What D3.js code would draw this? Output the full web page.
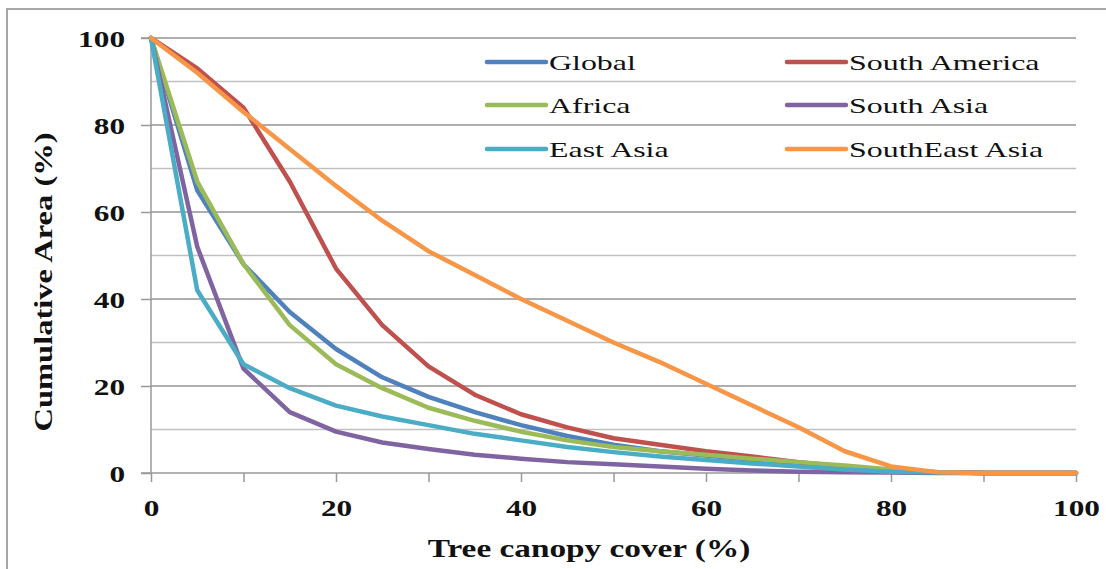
<!DOCTYPE html>
<html><head><meta charset="utf-8">
<script src="https://cdn.jsdelivr.net/npm/d3@7/dist/d3.min.js"></script>
<style>body{margin:0;background:#fff}svg{display:block}</style>
</head><body><svg id="c" width="1106" height="569"></svg>
<script>
const xValues = [0,5,10,15,20,25,30,35,40,45,50,55,60,65,70,75,80,85,90,95,100];
const seriesNames = ["Global","South America","Africa","South Asia","East Asia","SouthEast Asia"];
const globalVals = [100,65,48,37,28.5,22,17.5,14,11,8.5,6.5,5,4,3,2,1.2,0.5,0.2,0,0,0];
const southAmericaVals = [100,93,84,67,47,34,24.5,18,13.5,10.5,8,6.5,5,3.8,2.5,1.5,0.7,0.2,0,0,0];
const africaVals = [100,67,48,34,25,19.5,15,12,9.5,7.5,6,5,4.2,3.3,2.5,1.7,0.8,0.2,0,0,0];
const southAsiaVals = [100,52,24,14,9.5,7,5.5,4.2,3.3,2.5,2,1.5,1,0.6,0.3,0.2,0.1,0,0,0,0];
const eastAsiaVals = [100,42,25,19.5,15.5,13,11,9,7.5,6,4.8,3.8,3,2.2,1.5,0.8,0.3,0.1,0,0,0];
const southEastAsiaVals = [100,92,83,74.5,66,58,51,45.5,40,35,30,25.5,20.5,15.5,10.5,5,1.5,0.2,0,0,0];
const xTickLabels = [0,20,40,60,80,100];
const yTickLabels = [0,20,40,60,80,100];
const colors = ["#4F81BD","#C0504D","#9BBB59","#8064A2","#4BACC6","#F79646"];
const allVals = [globalVals,southAmericaVals,africaVals,southAsiaVals,eastAsiaVals,southEastAsiaVals];

const svg = d3.select("#c");
const font = "'Liberation Serif','Times New Roman',serif";
function stretch(sel, f){
  sel.each(function(){
    const len = this.getComputedTextLength();
    if(len>0) d3.select(this).attr("textLength",len*f).attr("lengthAdjust","spacingAndGlyphs");
  });
}
// outer frame
svg.append("rect").attr("x",7).attr("y",9).attr("width",1110).attr("height",580)
  .attr("fill","none").attr("stroke","#a6a6a6").attr("stroke-width",2);

const x = d3.scaleLinear().domain([0,100]).range([151,1076]);
const y = d3.scaleLinear().domain([0,100]).range([473,38]);

// gridlines
const gridVals = d3.range(10,101,10);
svg.append("g").selectAll("line").data(gridVals).join("line")
  .attr("x1",x(0)).attr("x2",x(100)).attr("y1",d=>y(d)).attr("y2",d=>y(d))
  .attr("stroke",d=>d%20===0?"#939393":"#c0c0c0").attr("stroke-width",1.5);

// y axis
const yAxis = d3.axisLeft(y).tickValues(yTickLabels).tickSize(10).tickPadding(16).tickFormat(d3.format("d"));
const gy = svg.append("g").attr("transform",`translate(${x(0)},0)`).call(yAxis);
gy.select(".domain").attr("stroke","#999").attr("stroke-width",1.5).attr("d",`M-10,${y(100)}H0V${y(0)}`);
gy.selectAll(".tick line").attr("stroke","#999").attr("stroke-width",1.5);
gy.selectAll(".tick text").attr("font-family",font).attr("font-weight","bold").attr("font-size",23).attr("fill","#111").attr("dy","0.35em").call(stretch,1.36);

// x axis
const xAxis = d3.axisBottom(x).tickValues(d3.range(0,101,10)).tickSize(9).tickPadding(18)
  .tickFormat(d=>xTickLabels.includes(d)?d3.format("d")(d):"");
const gx = svg.append("g").attr("transform",`translate(0,${y(0)})`).call(xAxis);
gx.select(".domain").attr("stroke","#999").attr("stroke-width",1.5).attr("d",`M${x(0)-10},0H${x(100)}`);
gx.selectAll(".tick line").attr("stroke","#999").attr("stroke-width",1.5);
gx.selectAll(".tick text").attr("font-family",font).attr("font-weight","bold").attr("font-size",23).attr("fill","#111").call(stretch,1.36);

// lines
const line = d3.line().x((d,i)=>x(xValues[i])).y(d=>y(d));
svg.append("g").selectAll("path").data(allVals).join("path")
  .attr("d",line).attr("fill","none").attr("stroke",(d,i)=>colors[i])
  .attr("stroke-width",4.5).attr("stroke-linejoin","round").attr("stroke-linecap","round");

// legend
const legPos = [[487,62],[787,62],[487,105],[787,105],[487,149],[787,149]];
const lg = svg.append("g");
seriesNames.forEach((name,si)=>{
  const [lx,ly] = legPos[si];
  lg.append("line").attr("x1",lx).attr("x2",lx+59).attr("y1",ly).attr("y2",ly)
    .attr("stroke",colors[si]).attr("stroke-width",4.5).attr("stroke-linecap","round");
  lg.append("text").attr("x",lx+62).attr("y",ly).attr("dy","0.35em")
    .attr("font-family",font).attr("font-size",22).attr("fill","#111").text(name).call(stretch,1.45);
});

// axis titles
svg.append("text").attr("x",589).attr("y",557).attr("text-anchor","middle")
  .attr("font-family",font).attr("font-weight","bold").attr("font-size",26).attr("fill","#111")
  .text("Tree canopy cover (%)").call(stretch,1.28);
svg.append("text").attr("transform","translate(52,282) rotate(-90)").attr("text-anchor","middle")
  .attr("font-family",font).attr("font-weight","bold").attr("font-size",26).attr("fill","#111")
  .text("Cumulative Area (%)").call(stretch,1.25);
</script></body></html>
